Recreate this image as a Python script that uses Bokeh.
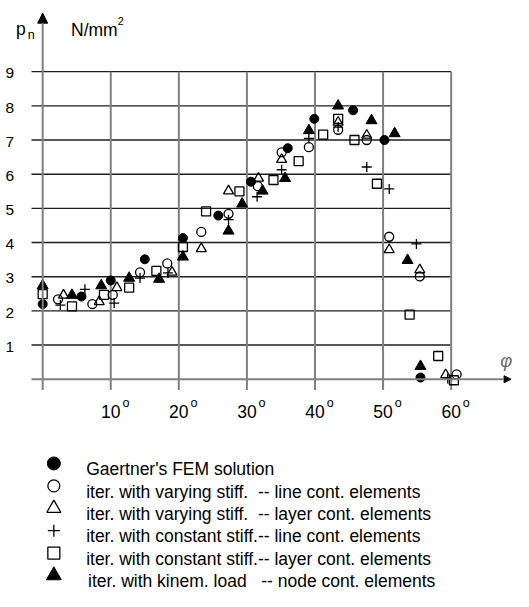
from bokeh.plotting import figure
from bokeh.models import Range1d, Arrow, NormalHead
from bokeh.embed import file_html
from bokeh.resources import INLINE
from bokeh.core.properties import value

# ---------------- data (angle in degrees, p_n in N/mm^2) ----------------
gaertner_deg = [0.0, 5.7, 10.0, 15.0, 20.6, 25.8, 30.6, 36.0, 39.9, 45.6, 50.2, 55.5]
gaertner_pn = [2.20, 2.42, 2.89, 3.51, 4.13, 4.79, 5.78, 6.76, 7.62, 7.87, 7.00, 0.05]

vary_line_deg = [2.25, 7.3, 10.3, 14.3, 18.3, 23.3, 27.3, 31.6, 35.1, 39.1, 43.4, 47.6, 50.9, 55.4, 60.8]
vary_line_pn = [2.34, 2.20, 2.47, 3.13, 3.39, 4.31, 4.84, 5.65, 6.64, 6.79, 7.30, 7.00, 4.17, 3.01, 0.14]

vary_layer_deg = [3.06, 8.3, 10.9, 19.0, 23.3, 27.3, 31.7, 35.1, 43.4, 47.6, 50.9, 55.4, 59.2]
vary_layer_pn = [2.46, 2.27, 2.68, 3.13, 3.82, 5.51, 5.88, 6.43, 7.52, 7.14, 3.79, 3.20, 0.13]

const_line_deg = [2.6, 6.2, 10.5, 14.3, 18.4, 27.3, 31.5, 35.1, 39.1, 43.4, 47.6, 50.9, 54.9, 59.5]
const_line_pn = [2.17, 2.63, 2.23, 2.96, 3.11, 4.67, 5.34, 6.13, 7.05, 7.38, 6.21, 5.57, 3.96, 0.02]

const_layer_deg = [0.0, 4.3, 9.0, 12.7, 16.7, 20.6, 24.0, 28.9, 33.9, 37.6, 41.2, 43.4, 45.8, 49.1, 53.9, 58.1, 60.4]
const_layer_pn = [2.49, 2.13, 2.47, 2.68, 3.17, 3.87, 4.91, 5.50, 5.83, 6.38, 7.16, 7.62, 7.00, 5.72, 1.89, 0.68, -0.03]

kinem_deg = [0.0, 4.3, 8.6, 12.7, 17.1, 20.6, 27.3, 29.3, 32.3, 35.6, 39.1, 43.4, 48.3, 51.7, 53.6, 55.5]
kinem_pn = [2.74, 2.46, 2.74, 2.96, 2.93, 3.58, 4.34, 5.13, 5.51, 5.88, 7.28, 8.00, 7.57, 7.19, 3.48, 0.38]

x_ticks = [10, 20, 30, 40, 50, 60]
x_tick_labels = ["10", "20", "30", "40", "50", "60"]
x_grid = [0, 10, 20, 30, 40, 50, 60]
y_ticks = [1, 2, 3, 4, 5, 6, 7, 8, 9]
y_tick_labels = ["1", "2", "3", "4", "5", "6", "7", "8", "9"]

legend_labels = [
    "Gaertner's FEM solution",
    "iter. with varying stiff.\u00a0 -- line cont. elements",
    "iter. with varying stiff.\u00a0 -- layer cont. elements",
    "iter. with constant stiff.-- line cont. elements",
    "iter. with constant stiff.-- layer cont. elements",
    "iter. with kinem. load \u00a0 -- node cont. elements",
]

# ---------------- layout ----------------
# The drawing is laid out on a 529 x 607 design grid and shown in a 513 x 591 canvas.
REF_W, REF_H = 529, 607
W, H = 513, 591
SCALE = min(W / REF_W, H / REF_H)
PX_DEG = 7.02      # design pixels per degree
PX_UNIT = 35.1     # design pixels per N/mm^2
ORIG_X, ORIG_Y = 43.5, 389.0   # design position of (0, 0)

def dx(px):
    return px / PX_DEG

def dy(px):
    return px / PX_UNIT

def fs(px):
    return "%.1fpx" % (px * SCALE)

x_start = -dx(ORIG_X)
x_end = x_start + dx(REF_W)
y_end = dy(ORIG_Y)
y_start = y_end - dy(REF_H)

p = figure(width=W, height=H, output_backend="svg", toolbar_location=None,
           x_range=Range1d(x_start, x_end), y_range=Range1d(y_start, y_end),
           x_axis_location=None, y_axis_location=None, min_border=0,
           tools="")
p.grid.visible = False
p.outline_line_color = None
p.background_fill_color = "white"

FONT = value("Liberation Sans")
GRID_V = "#808080"
GRID_H = "#1e1e1e"

grid_left = -dx(11.5)
grid_right = 60
grid_bottom = -dy(11)

# horizontal grid lines
p.segment(x0=[grid_left] * len(y_ticks), y0=y_ticks, x1=[grid_right] * len(y_ticks), y1=y_ticks,
          line_color=GRID_H, line_width=1.4)
# vertical grid lines
p.segment(x0=x_grid[1:], y0=[grid_bottom] * 6, x1=x_grid[1:], y1=[9] * 6,
          line_color=GRID_V, line_width=2)

# x axis with arrow
p.add_layout(Arrow(end=NormalHead(size=7, fill_color="black", line_color="black"),
                   x_start=grid_left, y_start=0, x_end=dx(483), y_end=0,
                   line_color=GRID_V, line_width=2))
# y axis with arrow
p.add_layout(Arrow(end=NormalHead(size=10, fill_color="black", line_color="black"),
                   x_start=0, y_start=grid_bottom, x_end=0, y_end=y_end - dy(13),
                   line_color=GRID_V, line_width=2))

# tick labels
p.text(x=[-dx(29.5)] * len(y_ticks), y=[v - dy(1.8) for v in y_ticks], text=y_tick_labels,
       text_font=FONT, text_font_size=fs(16), text_align="right", text_baseline="alphabetic",
       text_color="black")
p.text(x=x_ticks, y=[-dy(33.3)] * len(x_ticks), text=x_tick_labels,
       text_font=FONT, text_font_size=fs(18), text_align="center", text_baseline="alphabetic",
       text_color="black")
p.text(x=[t + dx(12) for t in x_ticks], y=[-dy(24.3)] * len(x_ticks), text=["o"] * len(x_ticks),
       text_font=FONT, text_font_size=fs(13), text_align="left", text_baseline="alphabetic",
       text_color="black")

# axis titles
p.text(x=[-dx(27.5)], y=[y_end - dy(29)], text=["p"], text_font=FONT, text_font_size=fs(18),
       text_align="left", text_baseline="alphabetic", text_color="black")
p.text(x=[-dx(15.5)], y=[y_end - dy(35)], text=["n"], text_font=FONT, text_font_size=fs(13),
       text_align="left", text_baseline="alphabetic", text_color="black")
p.text(x=[dx(29.2)], y=[y_end - dy(30)], text=["N/mm"], text_font=FONT, text_font_size=fs(18),
       text_align="left", text_baseline="alphabetic", text_color="black")
p.text(x=[dx(77.5)], y=[y_end - dy(21)], text=["2"], text_font=FONT, text_font_size=fs(11),
       text_align="left", text_baseline="alphabetic", text_color="black")
p.text(x=[dx(478)], y=[dy(19.5)], text=["\u03c6"], text_font=FONT, text_font_size=fs(19),
       text_font_style="italic", text_align="center", text_baseline="middle", text_color="#6a6a6a")

# ---------------- data markers ----------------
styles = [
    dict(marker="circle", size=9, fill_color="black", line_color="black", line_width=1),
    dict(marker="circle", size=9, fill_color=None, line_color="black", line_width=1.3),
    dict(marker="triangle", size=10, fill_color=None, line_color="black", line_width=1.3),
    dict(marker="cross", size=10, fill_color=None, line_color="black", line_width=1.3),
    dict(marker="square", size=9, fill_color=None, line_color="black", line_width=1.3),
    dict(marker="triangle", size=11, fill_color="black", line_color="black", line_width=1),
]
series = [
    (gaertner_deg, gaertner_pn),
    (vary_line_deg, vary_line_pn),
    (vary_layer_deg, vary_layer_pn),
    (const_line_deg, const_line_pn),
    (const_layer_deg, const_layer_pn),
    (kinem_deg, kinem_pn),
]
for (xs, ys), st in zip(series, styles):
    p.scatter(x=xs, y=ys, **st)

# ---------------- legend (drawn below the chart) ----------------
leg_marker_x = dx(11.5)
leg_text_x = dx(44.8)
leg_y0 = -dy(86.5)
leg_step = dy(23.0)
leg_sizes = [13, 12, 14, 12, 12, 15]
for i, (st, lab, sz) in enumerate(zip(styles, legend_labels, leg_sizes)):
    yy = leg_y0 - i * leg_step
    s2 = dict(st)
    s2["size"] = sz
    p.scatter(x=[leg_marker_x], y=[yy], **s2)
    tx = leg_text_x + (dx(2) if i == 5 else 0)
    p.text(x=[tx], y=[yy - dy(6)], text=[lab], text_font=FONT, text_font_size=fs(18),
           text_align="left", text_baseline="alphabetic", text_color="black")

open("out.html", "w").write(file_html(p, INLINE))
